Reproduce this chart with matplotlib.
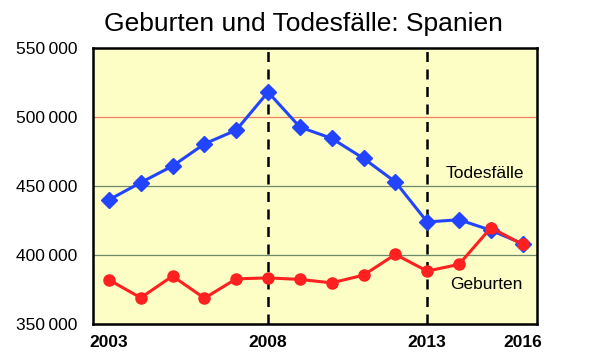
import matplotlib.pyplot as plt

plt.rcParams['font.family'] = ['Liberation Sans', 'DejaVu Sans']

# Data
years = [2003, 2004, 2005, 2006, 2007, 2008, 2009, 2010, 2011, 2012, 2013, 2014, 2015, 2016]
todesfaelle = [440000, 452500, 464500, 480500, 490500, 518000, 492700, 484500, 470000, 453000,
               424000, 425600, 418000, 408200]
geburten = [382100, 369100, 384800, 368800, 382800, 383500, 382400, 379900, 385500, 400500,
            388400, 393300, 419800, 407700]
y_ticks = [350000, 400000, 450000, 500000, 550000]
x_ticks = [2003, 2008, 2013, 2016]
marker_years = [2008, 2013]

fig = plt.figure(figsize=(6, 3.63), dpi=100)
ax = fig.add_axes([0.155, 0.107, 0.74, 0.761])
ax.set_facecolor('#fdfdc6')

# grid lines
ax.axhline(500000, color='#f08060', lw=0.9, zorder=1)
ax.axhline(450000, color='#6a8a6a', lw=0.9, zorder=1)
ax.axhline(400000, color='#6a8a6a', lw=0.9, zorder=1)
for yr in marker_years:
    ax.axvline(yr, color='black', lw=1.8, ls=(0, (4, 3)), zorder=2)

ax.plot(years, todesfaelle, color='#2244ff', lw=2.2, marker='D', ms=8.5, zorder=3)
ax.plot(years, geburten, color='#ff2020', lw=2.2, marker='o', ms=8, zorder=4)

ax.text(2014.8, 459000, 'Todesfälle', fontsize=12.5, ha='center', va='center')
ax.text(2014.85, 378500, 'Geburten', fontsize=12.5, ha='center', va='center')

ax.set_xlim(2002.5, 2016.45)
ax.set_ylim(350000, 550000)
ax.set_xticks(x_ticks)
ax.set_xticklabels([str(x) for x in x_ticks], fontsize=12.5, fontweight='bold')
ax.set_yticks(y_ticks)
ax.set_yticklabels([f'{v // 1000}\u2009000' for v in y_ticks], fontsize=12.5)
ax.tick_params(length=0, pad=8)
ax.tick_params(axis='y', pad=11)
for s in ax.spines.values():
    s.set_linewidth(1.8)

fig.text(0.505, 0.935, 'Geburten und Todesfälle: Spanien', fontsize=19,
         ha='center', va='center')

fig.savefig('out.png', dpi=100)
